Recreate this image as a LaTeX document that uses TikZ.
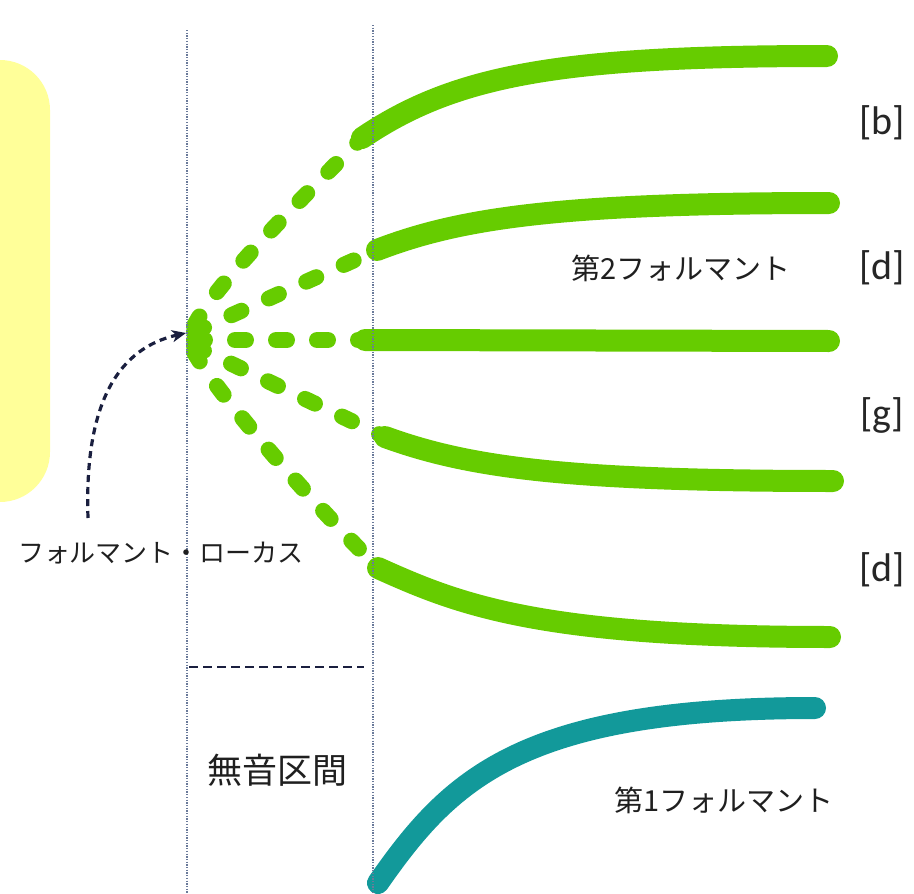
\documentclass[tikz,border=0pt]{standalone}
\usepackage{fontspec}
\newfontfamily\jpfont{Noto Sans CJK JP}
\newfontfamily\labfont{Carlito}
\usetikzlibrary{arrows.meta}
\definecolor{boxyellow}{HTML}{FFFF99}
\definecolor{fgreen}{HTML}{66CC00}
\definecolor{fteal}{HTML}{12999A}
\definecolor{navy}{HTML}{1A1F3F}
\definecolor{guide}{HTML}{6A7A9A}
\begin{document}
\begin{tikzpicture}[x=1pt,y=-1pt,
  solidf/.style={line width=22pt, line cap=round, fgreen},
  tealf/.style={line width=22pt, line cap=round, fteal},
  dashf/.style={line width=16pt, line cap=round, fgreen, dash pattern=on 11pt off 30pt},
  guideline/.style={line width=1.4pt, guide, dash pattern=on 1.3pt off 1.4pt},
  navydash/.style={line width=3.2pt, navy, dash pattern=on 9pt off 5pt},
  jptext/.style={inner sep=0pt, text=black!88, font=\jpfont\fontsize{#1}{#1}\selectfont},
  labtext/.style={inner sep=0pt, text=black!85, font=\labfont\fontsize{40}{40}\selectfont}]
\useasboundingbox (0,0) rectangle (914,894);
% yellow box
\fill[boxyellow, rounded corners=50pt] (-80,60) rectangle (50,502);
% coordinates
\coordinate (L) at (195,337);
\coordinate (s1) at (362,138); \coordinate (e1) at (827,56);
\coordinate (s2) at (377,250); \coordinate (e2) at (829,203);
\coordinate (s3) at (365,340); \coordinate (e3) at (829,341);
\coordinate (s4) at (385,437); \coordinate (e4) at (833,481);
\coordinate (s5) at (378,568); \coordinate (e5) at (830,637);
\coordinate (t1) at (378,883); \coordinate (t2) at (815,708);
% dashed loci
\draw[dashf] (194,326) .. controls (215,285) and (290,210) .. (s1);
\draw[dashf] (194,332) -- (s2);
\draw[dashf] (194,340) -- (s3);
\draw[dashf] (194,346) -- (s4);
\draw[dashf] (194,352) .. controls (215,390) and (300,490) .. (s5);
% solid formants
\draw[solidf] (s1) .. controls (455,75) and (560,56) .. (e1);
\draw[solidf] (s2) .. controls (460,218) and (560,203) .. (e2);
\draw[solidf] (s3) -- (e3);
\draw[solidf] (s4) .. controls (470,468) and (570,481) .. (e4);
\draw[solidf] (s5) .. controls (460,605) and (540,637) .. (e5);
\draw[tealf] (t1) .. controls (450,780) and (520,708) .. (t2);
% guides
\coordinate (g1a) at (187,30); \coordinate (g1b) at (187,894);
\coordinate (g2a) at (373,25); \coordinate (g2b) at (373,894);
\draw[guideline] (g1a) -- (g1b);
\draw[guideline] (g2a) -- (g2b);
% silent interval dashed line
\coordinate (h1) at (189,667); \coordinate (h2) at (364,667);
\draw[navydash, line width=2.8pt] (h1) -- (h2);
% texts
\node[jptext=26] (locus) at (161,553) {フォルマント・ローカス};
\node[jptext=35] (muon) at (277,770) {無音区間};
\node[jptext=29] (f2) at (681,268) {第2フォルマント};
\node[jptext=29] (f1) at (724,800) {第1フォルマント};
\node[labtext] (lb) at (882,123) {[b]};
\node[labtext] (ld1) at (882,268) {[d]};
\node[labtext] (lg) at (882,415) {[g]};
\node[labtext] (ld2) at (882,570) {[d]};
% arrow to locus
\coordinate (arrstart) at (88,518);
\coordinate (arrtip) at (186,333);
\draw[navydash, dash pattern=on 7pt off 5pt, -{Stealth[length=14pt,width=12pt,inset=4pt]}] (arrstart) .. controls (84,400) and (120,348) .. (arrtip);
\end{tikzpicture}
\end{document}
